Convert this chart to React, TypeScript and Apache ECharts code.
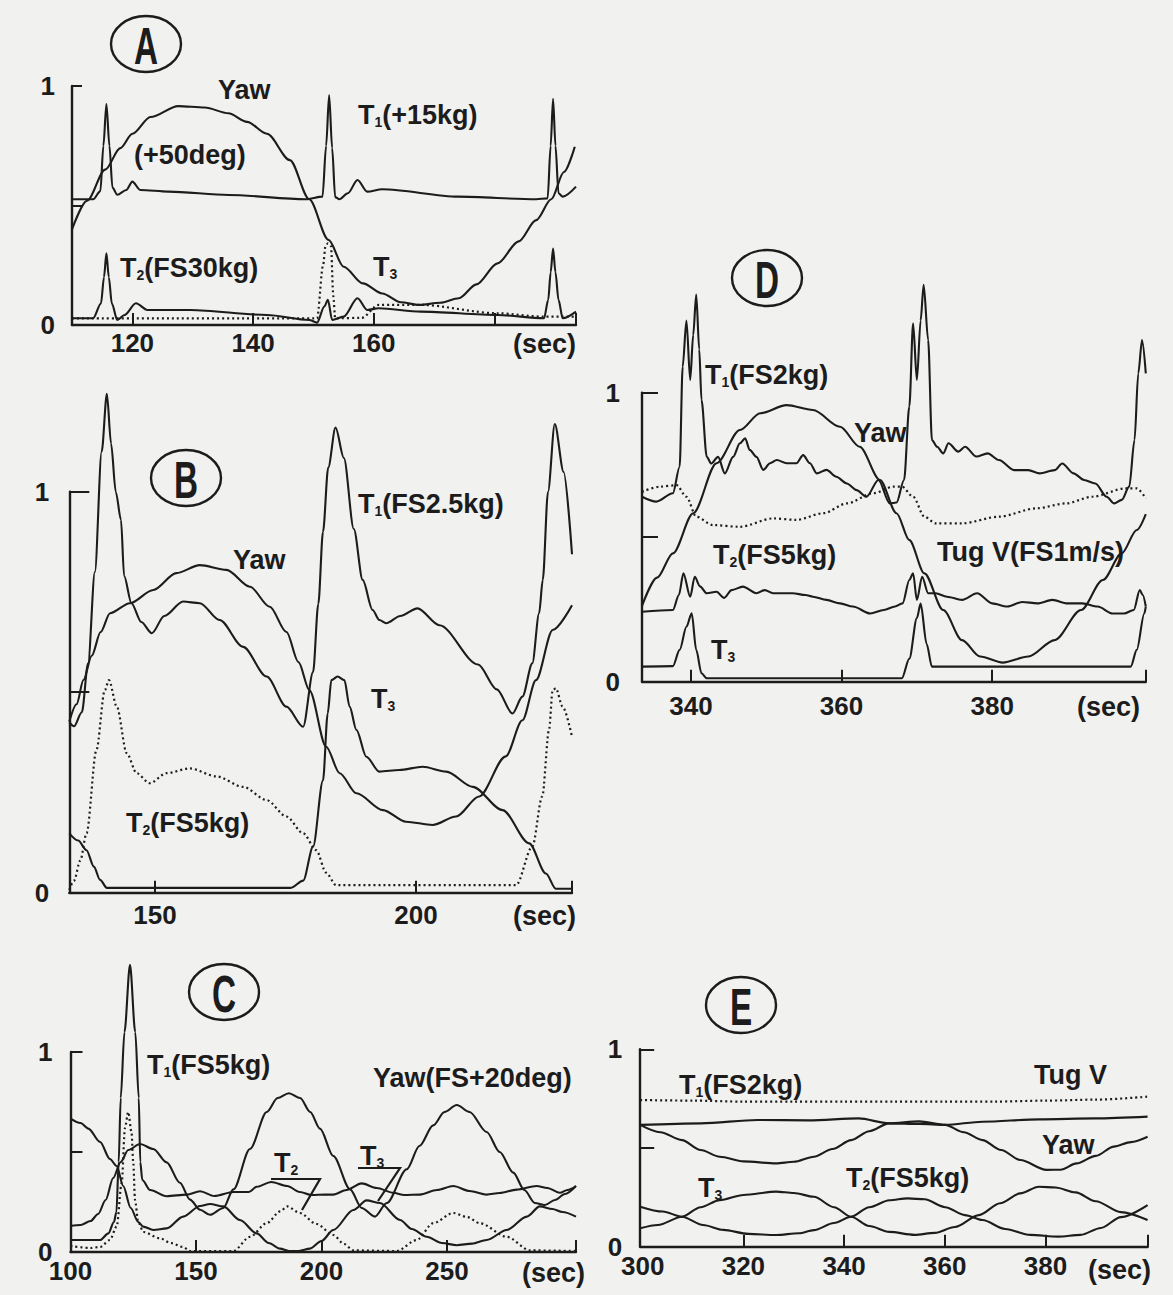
import React, { useEffect, useRef } from "react";
import * as echarts from "echarts";

type Pt = [number, number];

// ---------- Panel A: tension spikes, Yaw (+50deg) ----------
const aYaw: Pt[] = [[110, 0.4], [112.5, 0.52], [115.5, 0.65], [118, 0.74], [120, 0.8], [123, 0.87], [127.6, 0.916], [132, 0.91], [135.9, 0.886], [139, 0.85], [142.3, 0.8], [146.1, 0.69], [149.3, 0.526], [152.5, 0.356], [155, 0.244], [158.2, 0.174], [161.4, 0.132], [164.5, 0.095], [167.5, 0.084], [171, 0.093], [174.1, 0.112], [177, 0.17], [180.5, 0.258], [184, 0.35], [186.9, 0.439], [189.4, 0.526], [191.5, 0.64], [193.3, 0.746]];
const aT1: Pt[] = [[110, 0.526], [113.5, 0.526], [114.7, 0.56], [115.2, 0.75], [115.7, 0.925], [116.2, 0.75], [116.7, 0.575], [117.5, 0.545], [119, 0.565], [120, 0.6], [121.3, 0.565], [126, 0.558], [136, 0.544], [148.7, 0.526], [151.5, 0.537], [152.1, 0.75], [152.6, 0.962], [153.1, 0.74], [153.6, 0.535], [154.3, 0.526], [155.7, 0.551], [157.3, 0.607], [158.9, 0.558], [161.4, 0.568], [174, 0.537], [186.9, 0.526], [188.8, 0.53], [189.3, 0.75], [189.7, 0.946], [190.1, 0.75], [190.6, 0.551], [191.3, 0.537], [193.5, 0.579]];
const aT2: Pt[] = [[110, 0.028], [113.5, 0.028], [114.8, 0.09], [115.3, 0.2], [115.7, 0.3], [116.1, 0.2], [116.6, 0.09], [117.5, 0.021], [118.7, 0.042], [120.6, 0.091], [122.5, 0.063], [129.6, 0.063], [142.3, 0.042], [149.3, 0.021], [150.6, 0.01], [151.8, 0.077], [152.4, 0.105], [153.1, 0.021], [155, 0.035], [157.3, 0.112], [158.9, 0.063], [160.8, 0.07], [167.8, 0.056], [180.5, 0.042], [188.2, 0.028], [188.9, 0.105], [189.3, 0.22], [189.7, 0.32], [190.1, 0.22], [190.6, 0.105], [191.3, 0.028], [193.5, 0.056]];
const aT3: Pt[] = [[110, 0.028], [150.6, 0.028], [151.6, 0.25], [152, 0.33], [152.4, 0.342], [152.9, 0.33], [153.3, 0.12], [153.6, 0.028], [158, 0.03], [160.8, 0.084], [167.8, 0.084], [180.5, 0.049], [188.2, 0.035], [193.5, 0.035]];

// ---------- Panel B ----------
const bT1: Pt[] = [[133.6, 0.425], [134.5, 0.415], [136, 0.45], [137.2, 0.572], [138.5, 0.8], [139.8, 1.1], [140.8, 1.244], [141.6, 1.12], [142.5, 1.0], [143.5, 0.93], [144.1, 0.79], [145.5, 0.722], [147.4, 0.675], [149.4, 0.647], [151.8, 0.69], [155.4, 0.726], [158.6, 0.722], [162.4, 0.68], [166.9, 0.613], [171.4, 0.539], [175.2, 0.464], [178.4, 0.414], [180.3, 0.55], [181.3, 0.72], [182.2, 0.9], [183.2, 1.06], [184.6, 1.16], [186.2, 1.084], [188.1, 0.907], [189.8, 0.78], [191.7, 0.705], [193, 0.68], [194.3, 0.672], [197, 0.69], [200.3, 0.709], [204.5, 0.667], [211.9, 0.569], [215.5, 0.507], [218.5, 0.447], [220.4, 0.489], [222.3, 0.572], [223.6, 0.697], [224.3, 0.78], [225.3, 1.0], [226.6, 1.169], [228.3, 1.049], [229.9, 0.844]];
const bYaw: Pt[] = [[133.6, 0.427], [135, 0.47], [136.3, 0.53], [137.9, 0.591], [139.6, 0.65], [141.4, 0.697], [145.2, 0.722], [149.7, 0.755], [154.1, 0.797], [158.6, 0.817], [163.7, 0.805], [168.2, 0.763], [172, 0.713], [175.2, 0.65], [177.5, 0.575], [179.6, 0.505], [182.8, 0.364], [185.4, 0.298], [188.6, 0.248], [193.7, 0.206], [198.1, 0.177], [203.2, 0.169], [207.7, 0.19], [212.1, 0.24], [217.2, 0.34], [220.4, 0.43], [223, 0.53], [226.2, 0.655], [229.9, 0.717]];
const bT2: Pt[] = [[133.6, 0.007], [134.5, 0.03], [135.7, 0.08], [136.9, 0.148], [138.8, 0.356], [140.4, 0.505], [141.2, 0.53], [142.7, 0.464], [144.6, 0.348], [146.5, 0.298], [149, 0.273], [152.2, 0.298], [156.7, 0.31], [161.8, 0.29], [166.9, 0.264], [171.4, 0.231], [175.2, 0.19], [178.4, 0.148], [180.9, 0.106], [182.8, 0.05], [184.7, 0.019], [219.2, 0.019], [222.3, 0.115], [224.2, 0.24], [225.5, 0.406], [226.2, 0.505], [226.8, 0.51], [228.1, 0.464], [229.9, 0.389]];
const bT3: Pt[] = [[133.6, 0.148], [135.3, 0.13], [136.9, 0.106], [138.3, 0.065], [139.5, 0.032], [140.8, 0.012], [176, 0.012], [178.4, 0.03], [180.3, 0.115], [182.2, 0.28], [183.1, 0.447], [183.8, 0.53], [185, 0.539], [186.3, 0.53], [187.3, 0.464], [188.6, 0.406], [190.5, 0.339], [193, 0.302], [196.8, 0.306], [201.3, 0.314], [205.8, 0.302], [210.9, 0.264], [216.6, 0.206], [221.7, 0.123], [224.9, 0.048], [226.8, 0.01], [229.9, 0.01]];

// ---------- Panel C ----------
const cT1: Pt[] = [[100, 0.06], [111.8, 0.06], [115.1, 0.093], [117.3, 0.15], [118.3, 0.2], [119.2, 0.45], [120, 0.77], [121.5, 1.1], [123.7, 1.436], [125.8, 1.1], [127.2, 0.77], [127.8, 0.45], [128.6, 0.36], [131.7, 0.31], [138.3, 0.279], [146.3, 0.287], [151.6, 0.304], [157.3, 0.28], [164.9, 0.3], [171, 0.3], [174.2, 0.326], [180, 0.35], [186.3, 0.33], [191.4, 0.3], [196, 0.285], [201.5, 0.287], [204.7, 0.287], [210, 0.31], [216, 0.343], [222, 0.32], [228.6, 0.296], [233, 0.285], [239.2, 0.287], [246, 0.31], [252.5, 0.33], [259, 0.305], [265.8, 0.287], [271, 0.295], [277.8, 0.312], [285.7, 0.33], [290, 0.32], [295, 0.296], [298, 0.31], [301.4, 0.33]];
const cYaw: Pt[] = [[100, 0.13], [104, 0.135], [108, 0.155], [111, 0.19], [114, 0.26], [117, 0.37], [120, 0.45], [123, 0.51], [127.7, 0.54], [133, 0.515], [138.3, 0.448], [143.6, 0.346], [147.6, 0.262], [151.6, 0.211], [155.6, 0.186], [160.9, 0.22], [164.9, 0.313], [171.5, 0.515], [178.2, 0.7], [182.5, 0.77], [187, 0.794], [191.5, 0.77], [195.5, 0.7], [199.4, 0.617], [204.7, 0.48], [211.4, 0.313], [216, 0.22], [221.3, 0.177], [226, 0.245], [234, 0.414], [239, 0.53], [244.5, 0.633], [249, 0.7], [253.9, 0.735], [259, 0.7], [265.8, 0.6], [271, 0.5], [276.4, 0.397], [280.8, 0.31], [285, 0.245], [289, 0.235], [293, 0.26], [297, 0.29], [301.4, 0.33]];
const cT2: Pt[] = [[100, 0.03], [108, 0.02], [111.8, 0.025], [115.7, 0.06], [118.4, 0.127], [120.4, 0.346], [121.7, 0.62], [123, 0.7], [124.3, 0.6], [125, 0.45], [125.7, 0.26], [127, 0.15], [129, 0.1], [135.7, 0.068], [140, 0.045], [144.9, 0.025], [147.6, 0.005], [164.9, 0.005], [171.5, 0.076], [178.2, 0.144], [183.5, 0.203], [186.3, 0.228], [191.4, 0.195], [198, 0.14], [204.7, 0.085], [209, 0.04], [212.7, 0.008], [230, 0.005], [237.9, 0.06], [244.5, 0.144], [252.5, 0.195], [258, 0.175], [263.1, 0.144], [273.8, 0.076], [283.1, 0.008], [301.4, 0.005]];
const cT3: Pt[] = [[100, 0.667], [104, 0.645], [107.1, 0.617], [111.8, 0.55], [115.7, 0.465], [118.4, 0.43], [121, 0.33], [124, 0.22], [127, 0.15], [129, 0.127], [133, 0.11], [138.3, 0.118], [144.9, 0.177], [151.6, 0.23], [155.6, 0.24], [160.9, 0.228], [167.5, 0.16], [174.2, 0.093], [179, 0.045], [183.5, 0.017], [187, 0.005], [191, 0.005], [195.4, 0.017], [200, 0.055], [204.7, 0.11], [212.7, 0.21], [218, 0.258], [223.3, 0.245], [231.3, 0.16], [236, 0.115], [241.9, 0.076], [248, 0.045], [253.9, 0.034], [260, 0.042], [265.8, 0.06], [273.8, 0.11], [281.8, 0.177], [287, 0.228], [292, 0.215], [296, 0.2], [301.4, 0.177]];

// ---------- Panel D ----------
const dT1: Pt[] = [[333.5, 0.64], [335.4, 0.623], [337.6, 0.652], [338.5, 0.744], [338.9, 1.09], [339.4, 1.25], [339.9, 1.044], [340.3, 1.2], [340.7, 1.34], [341.1, 1.15], [341.4, 0.975], [342.1, 0.778], [342.7, 0.755], [343.6, 0.778], [344.5, 0.721], [345.6, 0.778], [346.5, 0.825], [347.2, 0.842], [347.8, 0.802], [348.7, 0.778], [349.6, 0.733], [350.5, 0.756], [351.4, 0.767], [352.7, 0.756], [354, 0.756], [354.9, 0.784], [355.8, 0.756], [356.7, 0.721], [358, 0.733], [359.3, 0.709], [360.7, 0.686], [362, 0.663], [363.3, 0.64], [364.9, 0.698], [366.4, 0.617], [367.3, 0.62], [368.3, 0.698], [369, 0.952], [369.5, 1.24], [370, 1.044], [370.5, 1.25], [370.9, 1.373], [371.5, 1.182], [372, 0.836], [372.7, 0.813], [373.5, 0.79], [374.2, 0.825], [375.5, 0.796], [376.4, 0.813], [377.9, 0.779], [379.4, 0.79], [380.9, 0.767], [382.9, 0.732], [384.8, 0.732], [386.3, 0.721], [388.3, 0.732], [389.3, 0.755], [390.8, 0.721], [392.2, 0.698], [393.7, 0.686], [395.2, 0.64], [396.2, 0.617], [397.2, 0.629], [398.2, 0.675], [398.9, 0.836], [399.4, 1.067], [399.9, 1.182], [400.4, 1.067]];
const dYaw: Pt[] = [[333.5, 0.262], [335.5, 0.36], [337.6, 0.444], [340.3, 0.583], [343.4, 0.756], [346.5, 0.871], [349.2, 0.929], [352.7, 0.957], [356.2, 0.94], [359.8, 0.882], [362.4, 0.813], [365.1, 0.698], [367.3, 0.583], [369, 0.49], [371, 0.375], [373.5, 0.248], [376, 0.144], [378.4, 0.087], [381.4, 0.066], [384.8, 0.087], [388.3, 0.144], [391.8, 0.248], [394.7, 0.352], [397.2, 0.444], [399.2, 0.525], [400.4, 0.58]];
const dTugV: Pt[] = [[333.5, 0.657], [335.9, 0.675], [338.1, 0.68], [339.4, 0.64], [340.7, 0.571], [342.9, 0.542], [346.5, 0.536], [350.9, 0.565], [354, 0.56], [357.6, 0.583], [360.7, 0.617], [364.2, 0.652], [366.9, 0.675], [368, 0.675], [369.5, 0.64], [371, 0.571], [372.5, 0.548], [376, 0.548], [380.9, 0.571], [385.9, 0.6], [389.8, 0.617], [393.3, 0.64], [397.7, 0.669], [399.2, 0.669], [400.4, 0.634]];
const dT2: Pt[] = [[333.5, 0.242], [337.6, 0.248], [338.4, 0.3], [339, 0.375], [339.9, 0.294], [340.5, 0.363], [341.2, 0.33], [342.1, 0.306], [343.4, 0.311], [344.4, 0.29], [345.4, 0.317], [346.9, 0.329], [348.7, 0.306], [349.8, 0.317], [350.9, 0.306], [353.5, 0.306], [355.2, 0.3], [356.2, 0.294], [358, 0.283], [359.8, 0.271], [361.5, 0.26], [363.8, 0.236], [365.6, 0.248], [367.1, 0.26], [368.1, 0.271], [369, 0.352], [369.5, 0.375], [370, 0.283], [370.7, 0.363], [371.5, 0.306], [372.5, 0.306], [374, 0.294], [376, 0.283], [378, 0.306], [380, 0.271], [382, 0.26], [384, 0.276], [386, 0.271], [388, 0.283], [390, 0.271], [392, 0.271], [394, 0.26], [396, 0.236], [397.5, 0.236], [398.8, 0.248], [399.6, 0.317], [400, 0.3], [400.4, 0.26]];
const dT3: Pt[] = [[333.5, 0.052], [337.6, 0.054], [338.5, 0.11], [339.4, 0.19], [340.1, 0.237], [340.7, 0.11], [341.4, 0.029], [342.1, 0.012], [368, 0.012], [369, 0.08], [370, 0.22], [370.5, 0.27], [371.3, 0.13], [372, 0.052], [398.4, 0.052], [399.2, 0.11], [400.2, 0.236], [400.4, 0.26]];

// ---------- Panel E ----------
const eTugV: Pt[] = [[299.5, 0.743], [310, 0.74], [320, 0.735], [330, 0.735], [340, 0.735], [350, 0.735], [360, 0.735], [370, 0.735], [380, 0.74], [390, 0.745], [400.3, 0.76]];
const eT1: Pt[] = [[299.5, 0.617], [311.6, 0.625], [322.8, 0.642], [333, 0.64], [342.9, 0.65], [348.9, 0.625], [355, 0.622], [360.1, 0.617], [367.5, 0.633], [378.7, 0.645], [389.9, 0.65], [400.3, 0.659]];
const eYaw: Pt[] = [[299.5, 0.617], [303.5, 0.58], [307.8, 0.54], [311.5, 0.49], [315.3, 0.456], [320, 0.432], [326.5, 0.422], [330, 0.43], [334, 0.456], [337.7, 0.495], [341.4, 0.54], [345, 0.585], [348.9, 0.625], [354.9, 0.635], [360.1, 0.617], [363.8, 0.58], [367.5, 0.54], [371.2, 0.49], [375, 0.439], [380.2, 0.389], [383, 0.39], [386.2, 0.422], [390, 0.46], [393.6, 0.507], [397, 0.53], [400.3, 0.557]];
const eT3: Pt[] = [[299.5, 0.093], [303, 0.11], [307.8, 0.152], [311.5, 0.2], [315.3, 0.236], [320, 0.262], [326.5, 0.279], [330, 0.272], [334, 0.253], [338, 0.2], [341.4, 0.152], [345, 0.105], [349, 0.075], [354, 0.06], [358, 0.07], [362, 0.1], [366.8, 0.16], [371, 0.22], [375, 0.27], [378.7, 0.304], [382, 0.3], [386, 0.275], [390, 0.23], [395, 0.175], [400.3, 0.135]];
const eT2: Pt[] = [[299.5, 0.203], [304, 0.178], [307.8, 0.152], [312, 0.11], [316, 0.085], [321, 0.065], [326.5, 0.059], [331, 0.068], [334, 0.084], [338, 0.12], [341.4, 0.152], [345, 0.2], [349, 0.235], [352.6, 0.245], [356, 0.24], [360.1, 0.2], [364, 0.16], [367.5, 0.135], [372, 0.09], [377, 0.06], [382.5, 0.051], [387, 0.06], [391, 0.095], [395, 0.15], [400.3, 0.211]];

// Axis extents, ticks and tick labels (seconds)
const xRanges: Pt[] = [[110, 193.5], [133.6, 229.9], [100, 301.4], [333.5, 400.4], [299.5, 400.3]];
const xTickValues: number[][] = [[120, 140, 160, 180, 193.5], [150, 200, 229.9], [150, 200, 250, 301.4], [340, 360, 380, 400.4], [320, 340, 360, 380, 400.3]];
const xTickLabels: number[][] = [[120, 140, 160], [150, 200], [100, 150, 200, 250], [340, 360, 380], [300, 320, 340, 360, 380]];

const INK = "#1c1c1c";
const PAPER = "#f1f1ef";
const FONT = "'Liberation Sans', Arial, Helvetica, sans-serif";

// plot rectangles: [left, top(=value 1), width, height(0..1)]
const GRIDS = [
  { left: 72, top: 86, width: 504, height: 239, yTick: 10, yLabelGap: 17, xLabelGap: 5 },
  { left: 69.3, top: 491.7, width: 502.7, height: 401, yTick: 20, yLabelGap: 20, xLabelGap: 9 },
  { left: 70.5, top: 1052, width: 505.5, height: 200, yTick: 12, yLabelGap: 18, xLabelGap: 6 },
  { left: 642, top: 392.7, width: 503.8, height: 289, yTick: 16, yLabelGap: 22, xLabelGap: 11 },
  { left: 640.2, top: 1049.3, width: 507.4, height: 197.4, yTick: 14, yLabelGap: 18, xLabelGap: 6 },
];

const PANELS: { solid: Pt[][]; dotted: Pt[][] }[] = [
  { solid: [aYaw, aT1, aT2], dotted: [aT3] },
  { solid: [bT1, bYaw, bT3], dotted: [bT2] },
  { solid: [cT1, cYaw, cT3], dotted: [cT2] },
  { solid: [dT1, dYaw, dT2, dT3], dotted: [dTugV] },
  { solid: [eT1, eYaw, eT3, eT2], dotted: [eTugV] },
];

const rich = {
  b: { fontSize: 27, fontWeight: "bold" as const, fontFamily: FONT, fill: INK, verticalAlign: "bottom" as const },
  s: { fontSize: 14, fontWeight: "bold" as const, fontFamily: FONT, fill: INK, verticalAlign: "bottom" as const },
};

function label(x: number, y: number, text: string) {
  return {
    type: "text",
    x,
    y,
    silent: true,
    style: { text, rich, fill: INK, verticalAlign: "middle", align: "left" },
  };
}

function badge(cx: number, cy: number, letter: string) {
  return [
    {
      type: "ellipse",
      shape: { cx, cy, rx: 35, ry: 28 },
      style: { fill: "none", stroke: INK, lineWidth: 2.4 },
      silent: true,
    },
    {
      type: "text",
      x: cx,
      y: cy + 2,
      scaleX: 0.64,
      silent: true,
      style: { text: letter, fill: INK, font: `bold 52px ${FONT}`, align: "center", verticalAlign: "middle" },
    },
  ];
}

function secLabel(x: number, y: number) {
  return {
    type: "text",
    x,
    y,
    silent: true,
    style: { text: "(sec)", fill: INK, font: `bold 27px ${FONT}`, align: "left", verticalAlign: "middle" },
  };
}

function pointer(points: number[][]) {
  return {
    type: "polyline",
    shape: { points },
    style: { fill: "none", stroke: INK, lineWidth: 2.2 },
    silent: true,
  };
}

function buildOption() {
  const grid = GRIDS.map((g) => ({ left: g.left, top: g.top, width: g.width, height: g.height }));
  const axisText = { color: INK, fontSize: 26, fontWeight: "bold" as const, fontFamily: FONT };
  const xAxis = GRIDS.map((g, i) => ({
    gridIndex: i,
    type: "value",
    min: xRanges[i][0],
    max: xRanges[i][1],
    axisLine: { show: true, onZero: false, lineStyle: { color: INK, width: 2.4 } },
    axisTick: { show: true, inside: true, length: 12, customValues: xTickValues[i], lineStyle: { color: INK, width: 2 } },
    axisLabel: { ...axisText, margin: g.xLabelGap, customValues: xTickLabels[i] },
    splitLine: { show: false },
  }));
  const yAxis = GRIDS.map((g, i) => ({
    gridIndex: i,
    type: "value",
    min: 0,
    max: 1,
    axisLine: { show: true, onZero: false, lineStyle: { color: INK, width: 2.4 } },
    axisTick: { show: true, inside: true, length: g.yTick, customValues: [0.5, 1], lineStyle: { color: INK, width: 2 } },
    axisLabel: { ...axisText, margin: g.yLabelGap, customValues: [0, 1] },
    splitLine: { show: false },
  }));

  const series: any[] = [];
  PANELS.forEach((p, i) => {
    const base = {
      type: "line",
      xAxisIndex: i,
      yAxisIndex: i,
      showSymbol: false,
      symbol: "none",
      smooth: 0.3,
      smoothMonotone: "x",
      clip: false,
      silent: true,
    };
    p.solid.forEach((d) => series.push({ ...base, data: d, lineStyle: { color: INK, width: 2.1 } }));
    p.dotted.forEach((d) => series.push({ ...base, data: d, lineStyle: { color: INK, width: 2.2, type: [2, 3] } }));
  });

  const graphic: any[] = [
    ...badge(146, 44, "A"),
    ...badge(186, 478, "B"),
    ...badge(224, 992, "C"),
    ...badge(767, 278, "D"),
    ...badge(741, 1005, "E"),

    label(218, 90, "{b|Yaw}"),
    label(358, 115, "{b|T}{s|1}{b|(+15kg)}"),
    label(134, 155, "{b|(+50deg)}"),
    label(120, 268, "{b|T}{s|2}{b|(FS30kg)}"),
    label(373, 267, "{b|T}{s|3}"),
    secLabel(513, 344),

    label(358, 504, "{b|T}{s|1}{b|(FS2.5kg)}"),
    label(233, 560, "{b|Yaw}"),
    label(371, 699, "{b|T}{s|3}"),
    label(126, 823, "{b|T}{s|2}{b|(FS5kg)}"),
    secLabel(513, 916),

    label(147, 1065, "{b|T}{s|1}{b|(FS5kg)}"),
    label(373, 1078, "{b|Yaw(FS+20deg)}"),
    label(274, 1163, "{b|T}{s|2}"),
    label(360, 1156, "{b|T}{s|3}"),
    pointer([[271, 1179], [320, 1179], [302, 1210]]),
    pointer([[358, 1168], [400, 1168], [378, 1201]]),
    secLabel(522, 1273),

    label(705, 375, "{b|T}{s|1}{b|(FS2kg)}"),
    label(854, 433, "{b|Yaw}"),
    label(713, 555, "{b|T}{s|2}{b|(FS5kg)}"),
    label(937, 552, "{b|Tug V(FS1m/s)}"),
    label(711, 650, "{b|T}{s|3}"),
    secLabel(1077, 707),

    label(679, 1085, "{b|T}{s|1}{b|(FS2kg)}"),
    label(1034, 1075, "{b|Tug V}"),
    label(1042, 1145, "{b|Yaw}"),
    label(846, 1178, "{b|T}{s|2}{b|(FS5kg)}"),
    label(698, 1188, "{b|T}{s|3}"),
    secLabel(1088, 1270),
  ];

  return {
    animation: false,
    backgroundColor: PAPER,
    grid,
    xAxis,
    yAxis,
    series,
    graphic,
  };
}

export default function App() {
  const ref = useRef<HTMLDivElement>(null);
  useEffect(() => {
    document.body.style.margin = "0";
    document.body.style.overflow = "hidden";
    document.body.style.background = PAPER;
    if (!ref.current) return;
    const chart = echarts.init(ref.current, null, { renderer: "svg" });
    chart.setOption(buildOption() as any);
    return () => chart.dispose();
  }, []);
  return <div ref={ref} style={{ width: 1173, height: 1295 }} />;
}
